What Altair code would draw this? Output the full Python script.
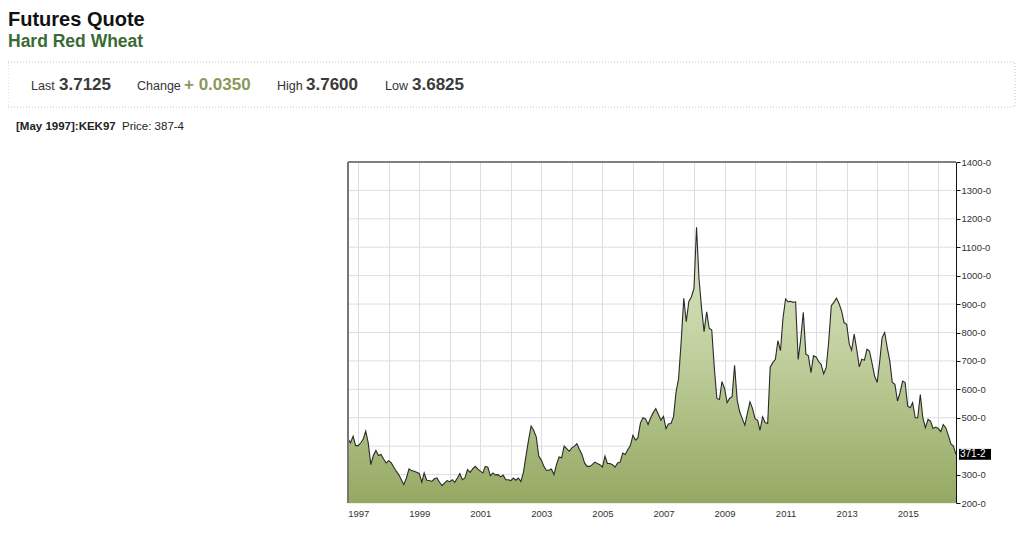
import altair as alt
import pandas as pd

FONT = "Liberation Sans"

# ---- data (monthly, Sep 1996 .. Aug 2016) ----
start_month = "1996-09-01"
prices = [
    426, 412, 435, 402,                                              # 1996 Sep-Dec
    402, 412, 424, 453, 412, 335, 367, 385, 367, 371, 355, 341,      # 1997
    349, 341, 327, 312, 300, 282, 265, 288, 320, 314, 312, 308,      # 1998
    304, 273, 306, 280, 279, 276, 285, 288, 273, 261, 271, 279,      # 1999
    275, 282, 273, 288, 304, 282, 288, 318, 308, 320, 329, 320,      # 2000
    312, 306, 329, 326, 296, 306, 299, 300, 292, 298, 282, 282,      # 2001
    279, 288, 280, 288, 276, 308, 365, 421, 471, 456, 433, 365,      # 2002
    351, 329, 315, 315, 320, 300, 335, 362, 359, 400, 391, 382,      # 2003
    394, 400, 409, 388, 371, 341, 329, 329, 335, 344, 339, 335,      # 2004
    327, 365, 339, 339, 335, 326, 341, 344, 376, 371, 388, 402,      # 2005
    438, 421, 429, 482, 500, 496, 476, 500, 518, 532, 512, 492,      # 2006
    505, 462, 478, 480, 503, 591, 638, 768, 920, 838, 909, 925,      # 2007
    955, 1170, 991, 885, 803, 873, 815, 809, 674, 568, 564, 627,     # 2008
    603, 553, 568, 574, 685, 562, 521, 497, 474, 515, 556, 533,      # 2009
    497, 491, 456, 503, 483, 480, 678, 694, 706, 771, 736, 850,      # 2010
    918, 908, 910, 906, 908, 705, 776, 871, 724, 718, 659, 718,      # 2011
    714, 698, 688, 655, 676, 771, 894, 906, 921, 902, 876, 835,      # 2012
    829, 759, 738, 794, 741, 679, 706, 702, 741, 735, 691, 647,      # 2013
    624, 700, 782, 800, 747, 700, 624, 618, 559, 588, 629, 624,      # 2014
    541, 535, 553, 500, 500, 582, 500, 465, 494, 488, 462, 467,      # 2015
    462, 451, 476, 465, 439, 408, 400, 371.25,                       # 2016 Jan-Aug
]
grid_years = list(range(1997, 2017))
price_grid = [200, 300, 400, 500, 600, 700, 800, 900, 1000, 1100, 1200, 1300, 1400]
price_ticks = [200, 300, 500, 600, 700, 800, 900, 1000, 1100, 1200, 1300, 1400]

title_text = "Futures Quote"
subtitle_text = "Hard Red Wheat"
stat_labels = ["Last", "Change", "High", "Low"]
stat_values = ["3.7125", "+ 0.0350", "3.7600", "3.6825"]
contract_text = "[May 1997]:KEK97"
price_text = "Price: 387-4"
last_label = "371-2"

# ---- layout ----
W, H = 608, 341

months = pd.date_range(start_month, periods=len(prices), freq="MS")
df = pd.DataFrame({"date": months, "price": prices})


def dt(ts):
    return alt.DateTime(year=int(ts.year), month=int(ts.month), date=1)


x_scale = alt.Scale(domain=[dt(months[0]), dt(months[-1])], nice=False)
y_scale = alt.Scale(domain=[200, 1400], nice=False, zero=False)

x_axis = alt.Axis(
    values=[alt.DateTime(year=y, month=1, date=1) for y in grid_years],
    labelExpr="year(datum.value) % 2 == 1 ? timeFormat(datum.value, '%Y') : ''",
    grid=True, gridColor="#dedede", gridWidth=1,
    ticks=False, domain=False, labelPadding=5, title=None,
    labelFont=FONT, labelFontSize=9.5, labelColor="#333", labelOverlap=False,
)
y_axis = alt.Axis(
    orient="right", values=price_ticks, labelExpr="datum.value + '-0'",
    grid=False, tickSize=4, tickColor="#111", domainColor="#111",
    labelPadding=1, title=None, labelFont=FONT, labelFontSize=9.5,
    labelColor="#333", labelOverlap=False, labelBaseline="middle",
)

X = alt.X("date:T", scale=x_scale, axis=x_axis)
Y = alt.Y("price:Q", scale=y_scale, axis=y_axis)

grid = alt.Chart(pd.DataFrame({"price": price_grid})).mark_rule(
    color="#dedede", strokeWidth=1
).encode(y=Y)

gradient = alt.Gradient(
    gradient="linear",
    stops=[
        alt.GradientStop(color="#dbe7c8", offset=0),
        alt.GradientStop(color="#c2d09f", offset=0.45),
        alt.GradientStop(color="#95a963", offset=1),
    ],
    x1=1, x2=1, y1=0, y2=1,
)

area = alt.Chart(df).mark_area(color=gradient, interpolate="linear").encode(
    x=X, y=Y, y2=alt.datum(200),
)
line = alt.Chart(df).mark_line(color="#2a2a2a", strokeWidth=1.1).encode(x=X, y=Y)

one = pd.DataFrame({"k": [0]})
top_border = alt.Chart(one).mark_rule(color="#111", strokeWidth=1).encode(
    x=alt.value(0), x2=alt.value(W), y=alt.value(0)
)
left_border = alt.Chart(one).mark_rule(color="#777", strokeWidth=2).encode(
    x=alt.value(0), y=alt.value(0), y2=alt.value(H)
)

last_df = pd.DataFrame({"price": [prices[-1]], "label": [last_label]})
last_box = alt.Chart(last_df).mark_point(
    shape="M-1,-0.34L1,-0.34L1,0.34L-1,0.34Z", size=1024, filled=True,
    color="#000", opacity=1,
).encode(x=alt.value(W + 19), y=Y)
last_txt = alt.Chart(last_df).mark_text(
    align="left", baseline="middle", color="#fff", font=FONT, fontSize=10
).encode(x=alt.value(W + 4), y=Y, text="label:N")


def txt(s, x, y, size, weight="normal", color="#333"):
    return alt.Chart(pd.DataFrame({"t": [s]})).mark_text(
        align="left", baseline="alphabetic", font=FONT, fontSize=size,
        fontWeight=weight, color=color,
    ).encode(x=alt.value(x), y=alt.value(y), text="t:N")


box = alt.Chart(one).mark_rect(
    fillOpacity=0, stroke="#c4c4c4", strokeDash=[1, 2], strokeWidth=1
).encode(x=alt.value(-340), x2=alt.value(667), y=alt.value(-100), y2=alt.value(-55))

header = [
    txt(title_text, -340, -136, 20, "bold", "#111"),
    txt(subtitle_text, -340, -115, 17.5, "bold", "#3b6b35"),
    box,
    txt(stat_labels[0], -317, -72, 12.5),
    txt(stat_values[0], -289, -72, 17, "bold", "#3a3a3a"),
    txt(stat_labels[1], -211, -72, 12.5),
    txt(stat_values[1], -164, -72, 17, "bold", "#8a9a5b"),
    txt(stat_labels[2], -71, -72, 12.5),
    txt(stat_values[2], -42, -72, 17, "bold", "#3a3a3a"),
    txt(stat_labels[3], 37, -72, 12.5),
    txt(stat_values[3], 64, -72, 17, "bold", "#3a3a3a"),
    txt(contract_text, -332, -32, 11.5, "bold", "#222"),
    txt(price_text, -226, -32, 11.5, "normal", "#222"),
]

chart = alt.layer(
    grid, area, line, top_border, left_border, last_box, last_txt, *header
).properties(
    width=W, height=H,
    padding={"left": 340, "top": 154, "right": 60, "bottom": 25},
    autosize=alt.AutoSizeParams(type="none"),
    background="#ffffff",
).configure_view(stroke=None)

chart.save("out.html", embed_options={"renderer": "svg", "actions": False})
